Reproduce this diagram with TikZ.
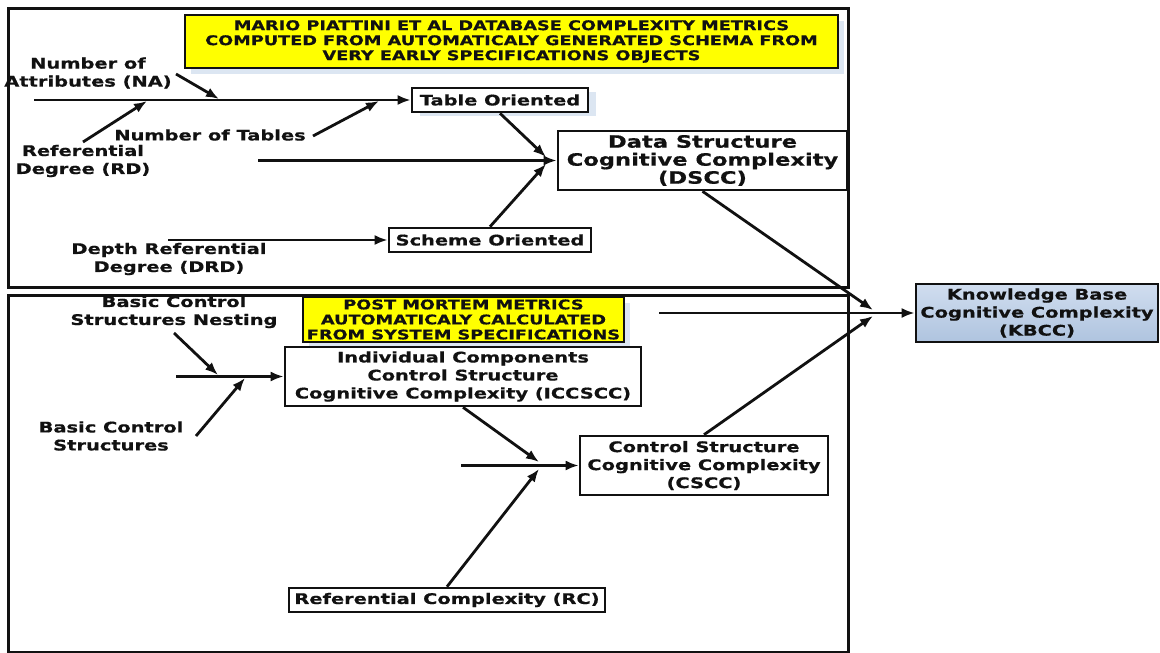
\documentclass[tikz,border=0pt]{standalone}
\usepackage{fontspec}
\setmainfont{DejaVu Sans}[FakeStretch=1.33, BoldFeatures={FakeBold=0.6}]
\usetikzlibrary{arrows.meta,shadows}
\definecolor{kbtop}{HTML}{D0DDEF}
\definecolor{kbbot}{HTML}{AFC4DF}
\definecolor{shadowblue}{HTML}{DCE6F2}
\definecolor{yel}{HTML}{FFFF00}
\definecolor{ink}{HTML}{111111}
\begin{document}
\begin{tikzpicture}[x=1pt,y=-1pt,
  box/.style={draw=ink, line width=2.6pt, fill=white, align=center, inner sep=0pt, text=ink,
    font=\fontsize{14.6}{18}\selectfont\bfseries},
  bigbox/.style={box, font=\fontsize{17}{18}\selectfont\bfseries},
  arr/.style={draw=ink, line width=2.8pt, -{Latex[length=13pt,width=10pt]}},
  lbl/.style={align=center, inner sep=0pt, text=ink, font=\fontsize{14.6}{18}\selectfont\bfseries},
  frame/.style={draw=ink, line width=3pt},
  ybox/.style={draw=ink, line width=2.6pt, fill=yel, align=center, inner sep=0pt, text=ink,
    font=\fontsize{13.3}{15}\selectfont\bfseries,
    drop shadow={shadow xshift=6pt, shadow yshift=-6pt, fill=shadowblue, opacity=1}},
  shbox/.style={box, drop shadow={shadow xshift=8pt, shadow yshift=-4pt, fill=shadowblue, opacity=1}}
]
\useasboundingbox (0,0) rectangle (1160,653);
\fill[white] (0,0) rectangle (1160,653);

% frames
\draw[frame] (8,8) rectangle (848,287);
\draw[frame] (8,295) rectangle (848,652);

% yellow title boxes
\node[ybox, minimum width=653, minimum height=53] (yt) at (511.5,41.5)
  {MARIO PIATTINI ET AL DATABASE COMPLEXITY METRICS\\COMPUTED FROM AUTOMATICALY GENERATED SCHEMA FROM\\VERY EARLY SPECIFICATIONS OBJECTS};
\node[ybox, minimum width=321, minimum height=45] (yb) at (463.5,319.5)
  {POST MORTEM METRICS\\AUTOMATICALY CALCULATED\\FROM SYSTEM SPECIFICATIONS};

% boxes
\node[shbox, minimum width=176, minimum height=24] (to) at (500,100) {Table Oriented};
\node[bigbox, minimum width=289, minimum height=59] (dscc) at (702.5,160.5)
  {Data Structure\\Cognitive Complexity\\(DSCC)};
\node[box, minimum width=202, minimum height=24] (so) at (490,240) {Scheme Oriented};
\node[box, minimum width=242, minimum height=58, top color=kbtop, bottom color=kbbot] (kbcc) at (1037,313)
  {Knowledge Base\\Cognitive Complexity\\(KBCC)};
\node[box, minimum width=356, minimum height=59] (icc) at (463,376.5)
  {Individual Components\\Control Structure\\Cognitive Complexity (ICCSCC)};
\node[box, minimum width=248, minimum height=59] (cscc) at (704,465.5)
  {Control Structure\\Cognitive Complexity\\(CSCC)};
\node[box, minimum width=316, minimum height=24] (rc) at (447,600) {Referential Complexity (RC)};

% labels
\node[lbl] (na) at (88,73) {Number of\\Attributes (NA)};
\node[lbl] (nt) at (210,135) {Number of Tables};
\node[lbl] (rd) at (83,161) {Referential\\Degree (RD)};
\node[lbl] (drd) at (169,259) {Depth Referential\\Degree (DRD)};
\node[lbl] (bcsn) at (174,312) {Basic Control\\Structures Nesting};
\node[lbl] (bcs) at (111,436) {Basic Control\\Structures};

% coordinates
\coordinate (a0) at (34,100);
\coordinate (na1) at (176,74);  \coordinate (na2) at (219,99);
\coordinate (rd1) at (83,142);  \coordinate (rd2) at (147,101);
\coordinate (nt1) at (313,136); \coordinate (nt2) at (379,101);
\coordinate (d0) at (258,160.5);
\coordinate (j1a) at (546,157); \coordinate (j1b) at (546,164);
\coordinate (drd0) at (168,240);
\coordinate (k0) at (659,313);
\coordinate (j2a) at (873,310); \coordinate (j2b) at (873,316);
\coordinate (n1) at (174,333);  \coordinate (n2) at (218,375);
\coordinate (i0) at (176,376.5);
\coordinate (b1) at (196,436);  \coordinate (b2) at (245,378);
\coordinate (c0) at (461,465.5);
\coordinate (j3a) at (539,462); \coordinate (j3b) at (539,469);

% connectors top
\draw[arr] (a0) -- (to.west);
\draw[arr] (na1) -- (na2);
\draw[arr] (rd1) -- (rd2);
\draw[arr] (nt1) -- (nt2);
\draw[arr] (d0) -- (dscc.west);
\draw[arr] (to.south) -- (j1a);
\draw[arr] (so.north) -- (j1b);
\draw[arr] (drd0) -- (so.west);

% connectors to KBCC
\draw[arr] (dscc.south) -- (j2a);
\draw[arr] (k0) -- (kbcc.west);
\draw[arr] (cscc.north) -- (j2b);

% connectors bottom
\draw[arr] (n1) -- (n2);
\draw[arr] (i0) -- (icc.west);
\draw[arr] (b1) -- (b2);
\draw[arr] (c0) -- (cscc.west);
\draw[arr] (icc.south) -- (j3a);
\draw[arr] (rc.north) -- (j3b);
\end{tikzpicture}
\end{document}
